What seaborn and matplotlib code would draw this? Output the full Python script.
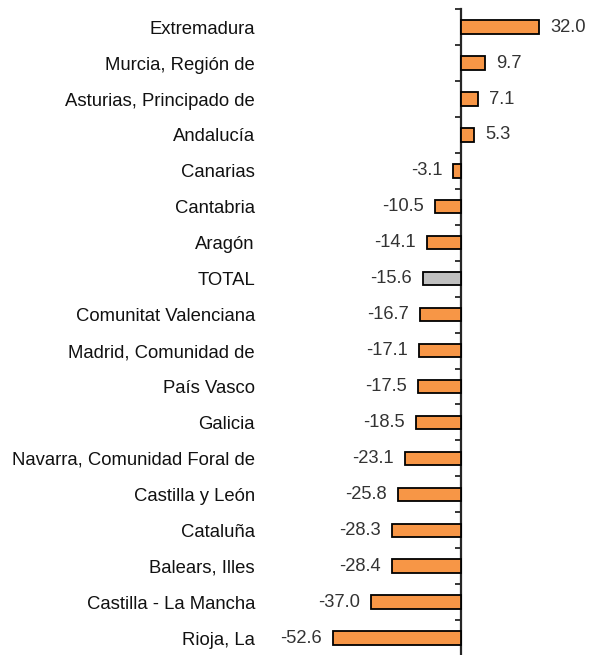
import numpy as np
import matplotlib
matplotlib.use('Agg')
import matplotlib.pyplot as plt
import seaborn as sns

# Data
regions = ['Extremadura', 'Murcia, Región de', 'Asturias, Principado de', 'Andalucía',
           'Canarias', 'Cantabria', 'Aragón', 'TOTAL', 'Comunitat Valenciana',
           'Madrid, Comunidad de', 'País Vasco', 'Galicia',
           'Navarra, Comunidad Foral de', 'Castilla y León', 'Cataluña',
           'Balears, Illes', 'Castilla - La Mancha', 'Rioja, La']
values = [32.0, 9.7, 7.1, 5.3, -3.1, -10.5, -14.1, -15.6, -16.7,
          -17.1, -17.5, -18.5, -23.1, -25.8, -28.3, -28.4, -37.0, -52.6]

orange = '#F79646'
grey = '#C0C0C0'
palette = {r: (grey if r == 'TOTAL' else orange) for r in regions}

sns.set_style('white')
plt.rcParams['font.family'] = ['Liberation Sans', 'DejaVu Sans']

fig = plt.figure(figsize=(5.93, 6.55), dpi=100)
ax = fig.add_axes([266 / 593, -0.0015, (590 - 266) / 593, 0.9875])

sns.barplot(x=values, y=regions, hue=regions, palette=palette, legend=False,
            orient='h', width=0.37, saturation=1, edgecolor='black',
            linewidth=1.3, ax=ax)

xmin, xmax = -79.9, 52.9
ax.set_xlim(xmin, xmax)
ax.set_ylim(len(regions) - 0.5, -0.5)

# value labels next to the bar ends
for i, v in enumerate(values):
    off = 8 if v >= 0 else -8
    ax.annotate(f'{v:.1f}', (v, i), xytext=(off, 0), textcoords='offset points',
                ha='left' if v >= 0 else 'right', va='center',
                fontsize=13.2, color='#333333')

# category labels on the left, no ticks there
ax.tick_params(axis='y', length=0, pad=8, labelsize=13.3, labelcolor='#111111')
ax.set_xticks([])
ax.set_xlabel('')
ax.set_ylabel('')
for s in ax.spines.values():
    s.set_visible(False)

# vertical axis line at zero with ticks between categories
sec = ax.secondary_yaxis((0 - xmin) / (xmax - xmin))
sec.set_yticks(np.arange(-0.5, len(regions), 1))
sec.set_yticklabels([])
sec.yaxis.set_ticks_position('left')
sec.tick_params(length=4, width=1.3, direction='out', left=True, right=False)
for s in sec.spines.values():
    s.set_linewidth(1.6)

fig.savefig('out.png', dpi=100)
